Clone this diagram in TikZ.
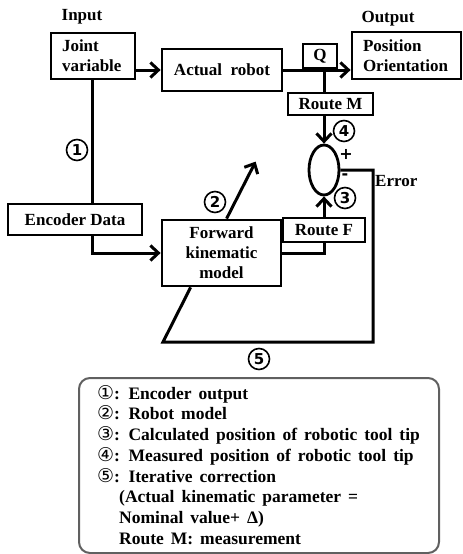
\documentclass[tikz,border=0pt]{standalone}
\usepackage{fontspec}
\setmainfont{Liberation Serif}
\newfontfamily\djv{DejaVu Sans}
\usetikzlibrary{arrows.meta,calc,shapes.geometric}
\newcommand\cn[1]{{\fontsize{19}{20}\djv\mdseries #1}}
\newcommand\legfont{\fontsize{17.5}{20.7}\selectfont\bfseries\spaceskip=7pt plus 2pt\relax}
\begin{document}
\begin{tikzpicture}[x=1pt,y=-1pt,
  lbl/.style={inner sep=0pt,font=\fontsize{17}{20}\selectfont\bfseries},
  box/.style={draw,line width=2.8pt,inner sep=0pt,font=\fontsize{17}{20}\selectfont\bfseries},
  wire/.style={line width=3pt},
  arr/.style={line width=3pt,-{Straight Barb[length=8pt,width=15pt]}},
  cnum/.style={circle,draw,line width=1.6pt,inner sep=0pt,minimum size=21pt,font=\fontsize{15}{15}\djv\bfseries},
  legend/.style={draw=gray!75!black,line width=2pt,rounded corners=11pt,minimum width=360pt,minimum height=175pt,anchor=north west}
]
\useasboundingbox (0,0) rectangle (463,554);
% titles
\node[lbl] (in) at (82,17) {Input};
\node[lbl] (out) at (388,19) {Output};
% boxes
\node[box,minimum width=84pt,minimum height=46pt,align=left,text width=62pt] (jv) at (93,56) {Joint\\variable};
\node[box,minimum width=120pt,minimum height=42pt] (ar) at (222,70) {Actual\ \ robot};
\node[box,minimum width=34pt,minimum height=24pt] (q) at (320,56) {Q};
\node[box,minimum width=109pt,minimum height=47pt,align=left,text width=87pt] (po) at (406.5,55.5) {Position\\Orientation};
\node[box,minimum width=85pt,minimum height=22pt] (rm) at (330.5,104) {Route M};
\node[draw,ellipse,line width=2.8pt,minimum width=30pt,minimum height=50pt,inner sep=0pt] (ell) at (324,170) {};
\node[box,minimum width=82pt,minimum height=24pt] (rf) at (324,230) {Route F};
\node[box,minimum width=119pt,minimum height=66pt,align=center] (fk) at (221.5,253) {Forward\\kinematic\\model};
\node[box,minimum width=134pt,minimum height=31pt] (ed) at (75,219.5) {Encoder Data};
% coordinates
\coordinate (mx) at (324,70);
\coordinate (c1) at (373,342);
\coordinate (c2) at (163,342);
% connectors
\draw[arr] (jv.east |- ar.west) -- (ar.west);
\draw[arr] (ar.east) -- (ar.east -| po.west);
\draw[wire] (mx) -- (mx |- rm.north);
\draw[arr] (mx |- rm.south) -- (ell.north);
\draw[wire] (fk.east) -- (fk.east -| rf.south) -- (rf.south);
\draw[arr] (rf.north) -- (ell.south);
\draw[wire] (jv.south -| 92,0) -- (ed.north -| 92,0);
\draw[arr] (ed.south -| 92,0) |- (fk.west);
\draw[arr] ($(fk.north west)+(66,0)$) -- ++(29,-57);
\draw[wire,line join=miter] (ell.east) -| (c1) -- (c2) -- ($(fk.south west)+(30,0)$);
% signs and numbers
\node[lbl,anchor=west] (err) at (375,181) {Error};
\node[font=\fontsize{16}{16}\selectfont\bfseries\djv] (plus) at (346,154) {+};
\node[font=\fontsize{16}{16}\selectfont\bfseries\djv] (minus) at (345,177) {-};
\node[cnum] (n1) at (77,150) {1};
\node[cnum] (n2) at (215,202) {2};
\node[cnum] (n3) at (345,198) {3};
\node[cnum] (n4) at (344,131) {4};
\node[cnum] (n5) at (259,359) {5};
% legend
\node[legend] (leg) at (78,377) {};
\node[anchor=north west,inner sep=0pt,align=left,font=\legfont] (legtext) at (97,385) {%
\cn{①}: Encoder output\\
\cn{②}: Robot model\\
\cn{③}: Calculated position of robotic tool tip\\
\cn{④}: Measured position of robotic tool tip\\
\cn{⑤}: Iterative correction\\
\hspace*{22pt}(Actual kinematic parameter =\\
\hspace*{22pt}Nominal value+ Δ)\\
\hspace*{22pt}Route M: measurement};
\end{tikzpicture}
\end{document}
